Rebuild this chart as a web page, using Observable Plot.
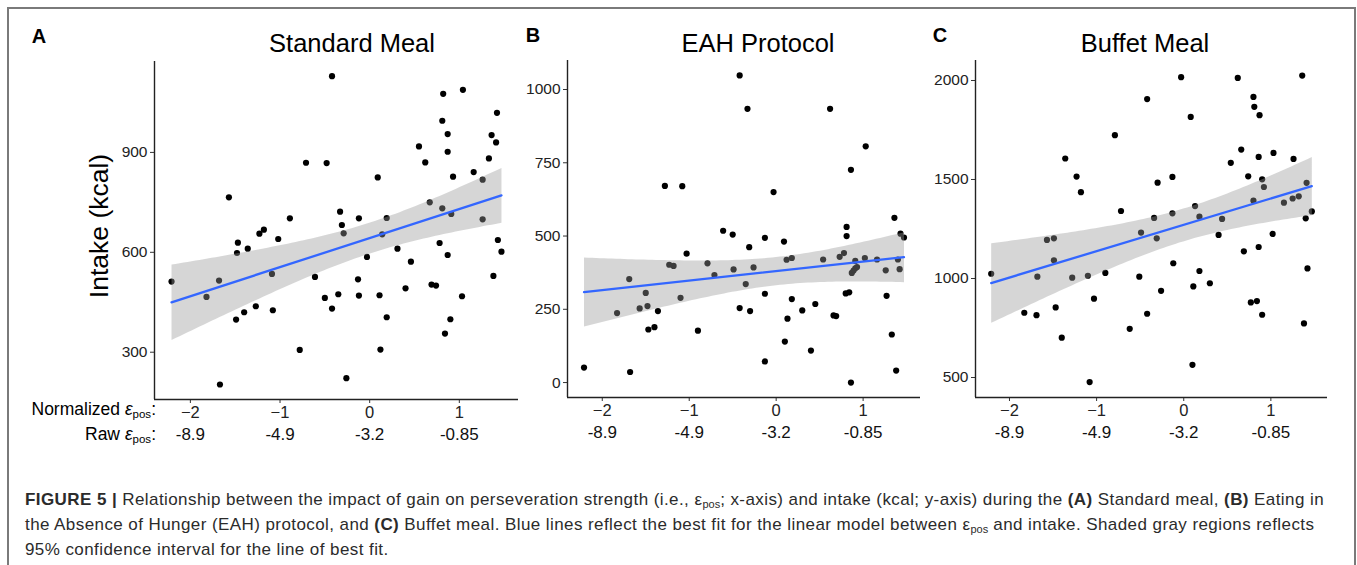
<!DOCTYPE html>
<html><head><meta charset="utf-8">
<script src="https://cdn.jsdelivr.net/npm/d3@7"></script>
<script src="https://cdn.jsdelivr.net/npm/@observablehq/plot@0.6"></script>
<style>
body{margin:0;background:#fff;font-family:"Liberation Sans",Arial,Helvetica,sans-serif;}
#fig{position:relative;width:1357px;height:565px;overflow:hidden;background:#fff}
#frame{position:absolute;left:7px;top:7px;width:1349px;height:620px;border:2px solid #7a7a7a;box-sizing:border-box}
.panel{position:absolute;top:0}
.lbl{position:absolute;line-height:1;white-space:nowrap;color:#000}
.title{font-size:25.5px;transform:translate(-50%,-50%)}
.letter{font-size:20px;font-weight:bold;transform:translate(-50%,-50%)}
.xlab{font-size:17.5px;transform:translate(-100%,-50%);text-align:right}
.xlab sub{font-size:11.5px;vertical-align:-3px}
.cap{position:absolute;left:25px;font-size:17px;letter-spacing:0.42px;line-height:1;white-space:nowrap;color:#2b2b2b;transform:translateY(-50%)}
.cap sub{font-size:11px;vertical-align:-3px;letter-spacing:0}
</style></head>
<body>
<div id="fig">
  <div id="frame"></div>
</div>
<script>
// ---- data ----
const normTicks = [-2, -1, 0, 1];
const rawLabels = ["-8.9", "-4.9", "-3.2", "-0.85"];
const titles = ["Standard Meal", "EAH Protocol", "Buffet Meal"];
const letters = ["A", "B", "C"];
const yLabel = "Intake (kcal)";

// Panel A: Standard meal
const aX = [-2.21,-1.82,-1.68,-1.67,-1.57,-1.49,-1.48,-1.47,-1.40,-1.36,-1.27,-1.23,-1.18,-1.09,-1.08,-1.02,-0.89,-0.78,-0.71,-0.61,-0.50,-0.48,-0.42,-0.42,-0.35,-0.33,-0.31,-0.29,-0.26,-0.12,-0.13,-0.12,-0.03,0.09,0.11,0.12,0.14,0.19,0.19,0.31,0.40,0.46,0.55,0.62,0.67,0.69,0.74,0.78,0.81,0.81,0.82,0.84,0.87,0.87,0.87,0.90,0.91,0.93,1.03,1.04,1.16,1.26,1.26,1.33,1.36,1.38,1.41,1.42,1.43,1.47];
const aY = [512,466,515,203,765,398,598,629,420,611,438,656,668,535,426,640,702,307,869,526,463,868,1129,431,474,722,682,657,222,702,519,470,586,825,471,308,654,703,405,611,492,572,918,870,750,503,500,628,995,732,1076,356,955,902,592,399,715,827,468,1088,841,818,699,882,952,529,930,1019,637,602];
const aTicks = [300, 600, 900];

// Panel B: EAH protocol
const bX = [-2.21,-1.83,-1.69,-1.68,-1.57,-1.50,-1.48,-1.47,-1.40,-1.36,-1.28,-1.23,-1.18,-1.10,-1.08,-1.03,-0.90,-0.79,-0.71,-0.61,-0.50,-0.49,-0.42,-0.42,-0.35,-0.33,-0.31,-0.30,-0.26,-0.13,-0.13,-0.13,-0.03,0.09,0.10,0.12,0.13,0.18,0.18,0.30,0.40,0.45,0.54,0.62,0.66,0.69,0.73,0.78,0.80,0.81,0.81,0.84,0.86,0.86,0.87,0.89,0.91,0.91,0.93,1.02,1.03,1.16,1.26,1.27,1.33,1.36,1.38,1.40,1.42,1.43,1.47];
const bY = [51,237,353,36,253,306,261,181,189,244,671,402,398,289,670,440,177,407,367,518,505,386,1048,254,336,934,462,244,393,494,303,72,650,481,140,419,218,425,285,246,109,268,420,934,229,227,429,442,304,531,500,308,726,0,374,382,415,390,394,425,806,420,383,296,164,562,41,420,387,508,495];
const bTicks = [0, 250, 500, 750, 1000];

// Panel C: Buffet meal
const cX = [-2.21,-1.83,-1.69,-1.68,-1.57,-1.49,-1.49,-1.47,-1.40,-1.36,-1.28,-1.23,-1.18,-1.10,-1.08,-1.03,-0.90,-0.79,-0.72,-0.62,-0.51,-0.49,-0.42,-0.42,-0.34,-0.31,-0.30,-0.26,-0.13,-0.13,-0.12,-0.03,0.08,0.10,0.11,0.13,0.18,0.18,0.30,0.40,0.44,0.54,0.62,0.66,0.69,0.74,0.77,0.80,0.80,0.81,0.84,0.86,0.87,0.86,0.90,0.90,0.92,1.02,1.03,1.15,1.25,1.26,1.32,1.36,1.38,1.40,1.41,1.42,1.47];
const cY = [1024,827,815,1009,1195,1203,1092,854,701,1606,1004,1515,1436,1014,477,898,1028,1724,1341,746,1009,1232,1906,822,1306,1203,1484,938,1513,1329,1077,2017,1816,564,960,1366,1038,1312,976,1220,1301,1584,2013,1651,1137,1516,879,1917,1393,1867,886,1614,1825,1159,817,1501,1462,1225,1634,1383,1404,1604,1415,2025,773,1304,1483,1051,1339];
const cTicks = [500, 1000, 1500, 2000];

// ---- drawing ----
const fig = document.getElementById("fig");
const minus = d => d < 0 ? "\u2212" + Math.abs(d) : String(d);

function panel(cfg) {
  const rows = cfg.x.map((d, i) => ({x: d, y: cfg.y[i]}));
  const p = Plot.plot({
    width: cfg.width, height: 450,
    marginLeft: cfg.ml, marginRight: cfg.mr, marginTop: cfg.mt, marginBottom: cfg.mb,
    style: {fontFamily: "Liberation Sans, Arial, sans-serif", fontSize: "16px", color: "#000", background: "transparent", overflow: "visible"},
    x: {domain: cfg.xDomain},
    y: {domain: cfg.yDomain},
    marks: [
      Plot.axisY({ticks: cfg.ticks, tickSize: 4, tickPadding: 3, fontSize: 15.5, label: null, tickFormat: d => String(d), color: "#222", stroke: "#333"}),
      Plot.axisX({ticks: normTicks, tickSize: 4, tickPadding: 3, fontSize: 16.5, label: null, tickFormat: minus, color: "#222", stroke: "#333"}),
      Plot.axisX({ticks: normTicks, tickSize: 0, tickPadding: 28, fontSize: 17, label: null, tickFormat: d => rawLabels[normTicks.indexOf(d)], color: "#111"}),
      Plot.ruleX([cfg.xDomain[0]], {stroke: "#222", strokeWidth: 1.4}),
      Plot.ruleY([cfg.yDomain[0]], {stroke: "#222", strokeWidth: 1.4}),
      Plot.dot(rows, {x: "x", y: "y", r: 3.1, fill: "#000", stroke: null}),
      Plot.linearRegressionY(rows, {x: "x", y: "y", stroke: "#3366FF", strokeWidth: 2.3, fill: "#999999", fillOpacity: 0.4, ci: 0.95})
    ]
  });
  p.classList.add("panel");
  p.style.left = cfg.left + "px";
  fig.appendChild(p);
}

panel({x: aX, y: aY, ticks: aTicks, xDomain: [-2.40, 1.66], yDomain: [158, 1173], left: 104, width: 420, ml: 50, mr: 6, mt: 61, mb: 51});
panel({x: bX, y: bY, ticks: bTicks, xDomain: [-2.40, 1.66], yDomain: [-51, 1099], left: 520, width: 410, ml: 47, mr: 10, mt: 60, mb: 53});
panel({x: cX, y: cY, ticks: cTicks, xDomain: [-2.39, 1.65], yDomain: [399, 2101], left: 925, width: 420, ml: 50, mr: 18, mt: 60, mb: 53});

function lbl(html, cls, x, y, extra) {
  const d = document.createElement("div");
  d.className = "lbl " + cls;
  d.innerHTML = html;
  d.style.left = x + "px";
  d.style.top = y + "px";
  if (extra) Object.assign(d.style, extra);
  fig.appendChild(d);
  return d;
}
const titlePos = [[352, 44], [758, 44], [1145, 44]];
const letterPos = [[39, 36], [533, 35], [940, 35]];
titles.forEach((t, i) => lbl(t, "title", titlePos[i][0], titlePos[i][1]));
letters.forEach((t, i) => lbl(t, "letter", letterPos[i][0], letterPos[i][1]));
lbl(yLabel, "", 99, 226, {fontSize: "26.5px", transform: "translate(-50%,-50%) rotate(-90deg)"});
lbl("Normalized <i>ε</i><sub>pos</sub>:", "xlab", 156, 411);
lbl("Raw <i>ε</i><sub>pos</sub>:", "xlab", 156, 436);

const capLines = [
  "<b>FIGURE 5 |</b> Relationship between the impact of gain on perseveration strength (i.e., ε<sub>pos</sub>; x-axis) and intake (kcal; y-axis) during the <b>(A)</b> Standard meal, <b>(B)</b> Eating in",
  "the Absence of Hunger (EAH) protocol, and <b>(C)</b> Buffet meal. Blue lines reflect the best fit for the linear model between ε<sub>pos</sub> and intake. Shaded gray regions reflects",
  "95% confidence interval for the line of best fit."
];
capLines.forEach((t, i) => {
  const d = document.createElement("div");
  d.className = "cap";
  d.innerHTML = t;
  d.style.top = (500 + i * 24.5) + "px";
  fig.appendChild(d);
});
</script>
</body></html>
